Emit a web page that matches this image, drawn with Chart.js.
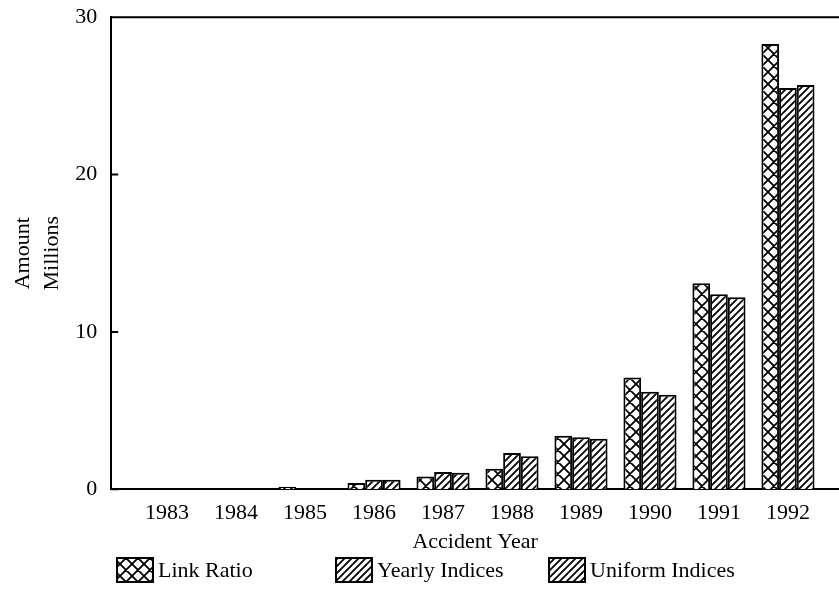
<!DOCTYPE html>
<html>
<head>
<meta charset="utf-8">
<script src="https://cdn.jsdelivr.net/npm/chart.js@4"></script>
<style>
  html, body { margin: 0; padding: 0; background: #fff; }
  #wrap { width: 839px; height: 593px; }
</style>
</head>
<body>
<div id="wrap"><canvas id="myChart"></canvas></div>
<script>

// Data (Millions)

const years = [1983, 1984, 1985, 1986, 1987, 1988, 1989, 1990, 1991, 1992];
const linkRatio = [0, 0, 0.15, 0.4, 0.8, 1.3, 3.4, 7.1, 13.1, 28.3];
const yearlyIndices = [0, 0, 0, 0.6, 1.1, 2.3, 3.3, 6.2, 12.4, 25.5];
const uniformIndices = [0, 0, 0, 0.6, 1.05, 2.1, 3.2, 6.0, 12.2, 25.7];
const yTicks = [0, 10, 20, 30];

// Hatch patterns

function makePattern(kind){
    const size = kind === 'cross' ? 12 : 7;
    const c = document.createElement('canvas');
    c.width = size; c.height = size;
    const g = c.getContext('2d');
    g.fillStyle = '#fff';
    g.fillRect(0, 0, size, size);
    g.strokeStyle = '#000';
    g.lineWidth = 1.8;
    g.beginPath();
    // "/" lines
    g.moveTo(-1, size + 1); g.lineTo(size + 1, -1);
    g.moveTo(-1, 1); g.lineTo(1, -1);
    g.moveTo(size - 1, size + 1); g.lineTo(size + 1, size - 1);
    if (kind === 'cross') {
        // "\" lines
        g.moveTo(-1, -1); g.lineTo(size + 1, size + 1);
        g.moveTo(size - 1, -1); g.lineTo(size + 1, 1);
        g.moveTo(-1, size - 1); g.lineTo(1, size + 1);
    }
    g.stroke();
    return g.createPattern(c, 'repeat');
}

const toPoints = vals => vals.map((v, i) => ({x: years[i], y: v}));

// Plugins: top frame line, inward y ticks, legend row

const framePlugin = {
    id: 'frame',
    afterDraw(chart){
        const {ctx, chartArea} = chart;
        const y = chart.scales.y;
        ctx.save();
        ctx.strokeStyle = '#000';
        ctx.lineWidth = 2;
        ctx.beginPath();
        ctx.moveTo(chartArea.left - 1, chartArea.top);
        ctx.lineTo(chartArea.right, chartArea.top);
        yTicks.forEach(t => {
            const py = y.getPixelForValue(t);
            ctx.moveTo(chartArea.left, py);
            ctx.lineTo(chartArea.left + 7, py);
        });
        ctx.stroke();
        ctx.restore();
    }
};

const legendRow = {
    id: 'legendRow',
    afterDraw(chart){
        const {ctx} = chart;
        const xs = [117, 336, 549];
        ctx.save();
        ctx.font = '22px "Liberation Serif"';
        ctx.textBaseline = 'middle';
        chart.data.datasets.forEach((ds, i) => {
            ctx.fillStyle = ds.backgroundColor;
            ctx.fillRect(xs[i], 558, 36, 24);
            ctx.strokeStyle = '#000';
            ctx.lineWidth = 2;
            ctx.strokeRect(xs[i], 558, 36, 24);
            ctx.fillStyle = '#000';
            ctx.fillText(ds.label, xs[i] + 41, 571);
        });
        ctx.restore();
    }
};

Chart.defaults.font.family = '"Liberation Serif", "DejaVu Serif", serif';
Chart.defaults.font.size = 22;
Chart.defaults.color = '#000';

const ctx = document.getElementById('myChart');

const myChart = new Chart(ctx, {
    type: 'bar',
    data: {
        datasets: [
            { label: 'Link Ratio', data: toPoints(linkRatio), backgroundColor: makePattern('cross') },
            { label: 'Yearly Indices', data: toPoints(yearlyIndices), backgroundColor: makePattern('diag') },
            { label: 'Uniform Indices', data: toPoints(uniformIndices), backgroundColor: makePattern('diag') }
        ]
    },
    options: {
        responsive: true,
        maintainAspectRatio: false,
        animation: false,
        datasets: {
            bar: {
                borderColor: '#000',
                borderWidth: 2,
                categoryPercentage: 0.77,
                barPercentage: 1
            }
        },
        layout: {
            padding: { top: 17, right: 0, left: 0, bottom: 38 }
        },
        plugins: {
            legend: { display: false },
            tooltip: { enabled: false }
        },
        scales: {
            x: {
                type: 'linear',
                offset: false,
                min: 1982.19,
                max: 1992.74,
                afterBuildTicks: axis => { axis.ticks = years.map(v => ({value: v})); },
                grid: { display: false, drawTicks: false },
                border: { color: '#000', width: 2 },
                ticks: {
                    padding: 11,
                    maxRotation: 0,
                    autoSkip: false,
                    callback: v => String(v)
                },
                title: {
                    display: true,
                    text: 'Accident Year',
                    padding: { top: -9, bottom: 0 }
                }
            },
            y: {
                min: 0,
                max: 30,
                afterBuildTicks: axis => { axis.ticks = yTicks.map(v => ({value: v})); },
                grid: { display: false, drawTicks: false },
                border: { color: '#000', width: 2 },
                ticks: { padding: 14, font: { size: 22, lineHeight: 0.3 } },
                title: {
                    display: true,
                    text: ['Amount', 'Millions'],
                    font: { size: 22, lineHeight: 1.3 },
                    padding: { top: 9, bottom: -5 }
                }
            }
        }
    },
    plugins: [framePlugin, legendRow]
});

</script>
</body>
</html>
